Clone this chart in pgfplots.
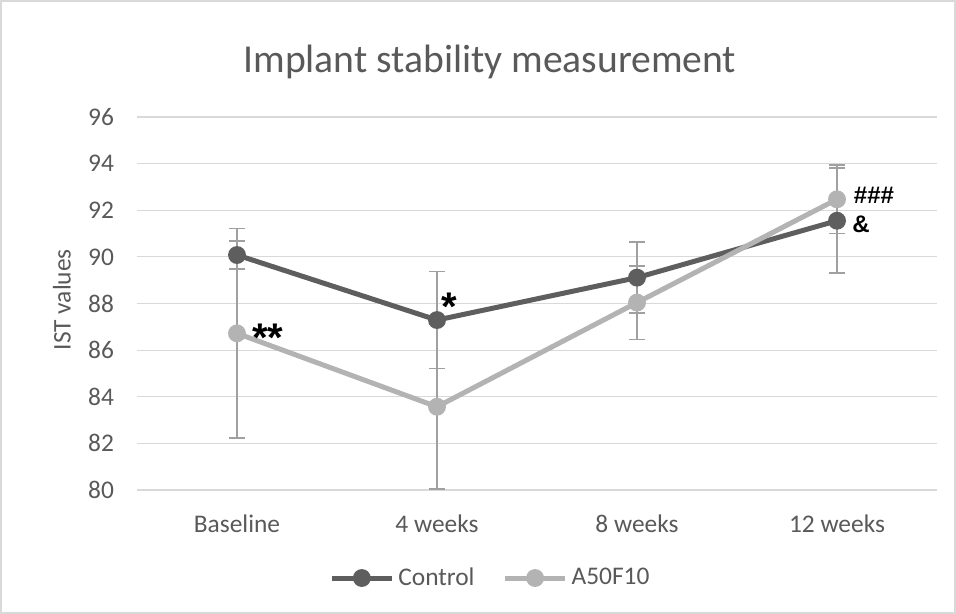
\documentclass[border=0pt]{standalone}
\usepackage{pgfplots}
\pgfplotsset{compat=1.18}
\usepackage{fontspec}
\setmainfont{Carlito}
\newfontfamily\notefont{Liberation Sans}

\definecolor{ctrlc}{HTML}{5E5E5E}
\definecolor{a50c}{HTML}{B3B3B3}
\definecolor{errc}{HTML}{A0A0A0}
\definecolor{gridc}{HTML}{D9D9D9}
\definecolor{textc}{HTML}{595959}

\begin{document}
\begin{tikzpicture}
\useasboundingbox (-68.5pt,-62pt) rectangle (409.5pt,245pt);
\draw[gridc, line width=0.6pt] (-68pt,-61.5pt) rectangle (409pt,244.5pt);
\begin{axis}[
    scale only axis,
    width=400pt, height=186.5pt,
    at={(0pt,0pt)}, anchor=south west,
    xmin=-0.5, xmax=3.5,
    ymin=80, ymax=96,
    xtick={0,1,2,3},
    xticklabels={Baseline,4 weeks,8 weeks,12 weeks},
    ytick={80,82,...,96},
    ymajorgrids,
    grid style={gridc, line width=0.6pt},
    axis line style={draw=none},
    major tick length=0pt,
    /pgf/number format/assume math mode=true,
    tick label style={font=\fontsize{12.7}{14}\selectfont, text=textc},
    yticklabel style={xshift=-8pt},
    xticklabel style={yshift=-9pt},
    ylabel={IST values},
    ylabel style={at={(axis description cs:-0.094,0.51)}, anchor=center,
        font=\fontsize{12.7}{14}\selectfont, text=textc},
    title={Implant stability measurement},
    title style={at={(axis description cs:0.441,1.115)}, anchor=center,
        font=\fontsize{19.8}{22}\selectfont, text=textc},
    legend columns=2,
    legend style={at={(axis description cs:0.443,-0.236)}, anchor=center,
        draw=none, fill=none, font=\fontsize{12.7}{14}\selectfont, text=textc,
        /tikz/every even column/.append style={column sep=12pt}},
    legend image code/.code={
        \draw[#1, mark repeat=2, mark phase=2]
            plot coordinates {(0pt,0pt) (15pt,0pt) (30pt,0pt)};},
    clip=false,
]
\addplot[ctrlc, line width=2.5pt, mark=*, mark size=3.2pt,
    error bars/.cd, y dir=both, y explicit,
    error bar style={errc, line width=0.8pt},
    error mark options={errc, rotate=90, mark size=4pt, line width=0.8pt}]
    coordinates {
    (0,90.08) +- (0,0.59)
    (1,87.29) +- (0,2.08)
    (2,89.11) +- (0,1.52)
    (3,91.55) +- (0,2.25)
    };
\addlegendentry{Control}
\addplot[a50c, line width=2.5pt, mark=*, mark size=3.2pt,
    error bars/.cd, y dir=both, y explicit,
    error bar style={errc, line width=0.8pt},
    error mark options={errc, rotate=90, mark size=4pt, line width=0.8pt}]
    coordinates {
    (0,86.72) +- (0,4.50)
    (1,83.57) +- (0,3.53)
    (2,88.04) +- (0,1.58)
    (3,92.47) +- (0,1.47)
    };
\addlegendentry{A50F10}
\node[anchor=base, inner sep=0pt, font=\notefont\bfseries\fontsize{20}{22}\selectfont] at (axis cs:0.155,85.92) {**};
\node[anchor=base, inner sep=0pt, font=\notefont\bfseries\fontsize{20}{22}\selectfont] at (axis cs:1.06,87.25) {*};
\node[anchor=base, inner sep=0pt, font=\notefont\bfseries\fontsize{12}{14}\selectfont] at (axis cs:3.185,92.31) {\#\#\#};
\node[anchor=base, inner sep=0pt, font=\notefont\bfseries\fontsize{12}{14}\selectfont] at (axis cs:3.12,91.03) {\&};
\end{axis}
\end{tikzpicture}
\end{document}
